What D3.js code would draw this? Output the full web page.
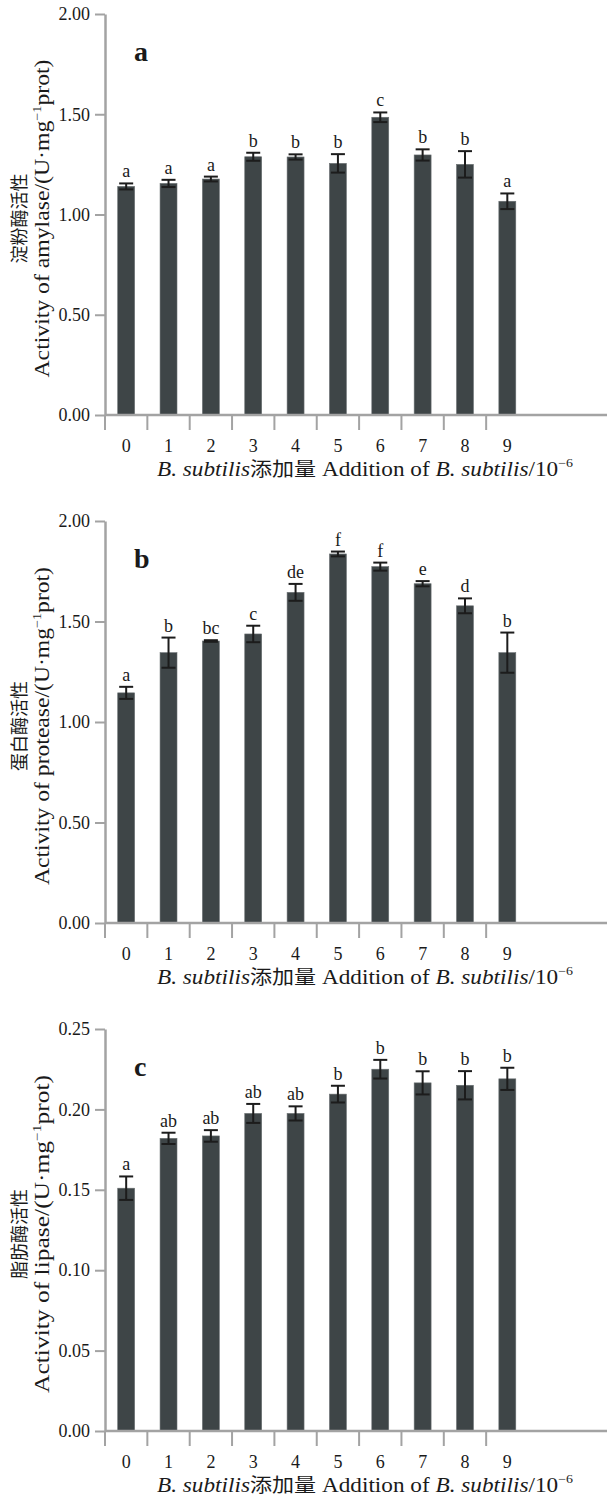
<!DOCTYPE html>
<html lang="zh">
<head>
<meta charset="UTF-8">
<title>Enzyme activity</title>
<style>
    html, body { margin: 0; padding: 0; background: #fff; }
    svg { display: block; }
    text { font-family: "Liberation Serif", "Times New Roman", serif; fill: #1a1a1a; }
    .cjk { font-family: "Noto Sans CJK SC", sans-serif; }
</style>
</head>
<body>
<div id="wrapper"></div>
<script src="https://d3js.org/d3.v7.min.js"></script>
<script>
    // 添加量 (10^-6)
    const categories = ["0", "1", "2", "3", "4", "5", "6", "7", "8", "9"];

    // a 淀粉酶
    const amylaseMean = [1.140, 1.155, 1.177, 1.288, 1.287, 1.255, 1.485, 1.297, 1.250, 1.066];
    const amylaseErr = [0.015, 0.018, 0.012, 0.020, 0.013, 0.046, 0.024, 0.028, 0.066, 0.039];
    const amylaseSig = ["a", "a", "a", "b", "b", "b", "c", "b", "b", "a"];
    const amylaseTicks = [0, 0.5, 1.0, 1.5, 2.0];

    // b 蛋白酶
    const proteaseMean = [1.145, 1.345, 1.403, 1.438, 1.645, 1.836, 1.773, 1.688, 1.578, 1.345];
    const proteaseErr = [0.030, 0.075, 0.004, 0.041, 0.042, 0.012, 0.020, 0.013, 0.037, 0.100];
    const proteaseSig = ["a", "b", "bc", "c", "de", "f", "f", "e", "d", "b"];
    const proteaseTicks = [0, 0.5, 1.0, 1.5, 2.0];

    // c 脂肪酶
    const lipaseMean = [0.151, 0.182, 0.1835, 0.1975, 0.1975, 0.2095, 0.225, 0.2165, 0.215, 0.219];
    const lipaseErr = [0.0073, 0.0035, 0.0036, 0.0059, 0.0044, 0.0052, 0.0058, 0.0072, 0.0088, 0.0069];
    const lipaseSig = ["a", "ab", "ab", "ab", "ab", "b", "b", "b", "b", "b"];
    const lipaseTicks = [0, 0.05, 0.10, 0.15, 0.20, 0.25];

    const width = 607, height = 1499;
    const axisColor = "#a3a3a3", barColor = "#3e4547", errColor = "#1c1c1c";

    const svg = d3.select("#wrapper").append("svg")
        .attr("width", width)
        .attr("height", height);

    const left = 105;

    // x 比例尺，各面板共用
    const xScale = d3.scaleBand()
        .domain(categories)
        .range([left, left + 423.5])
        .paddingInner(0.6)
        .paddingOuter(0.3);
    const halfGap = xScale.step() * xScale.paddingInner() / 2;

    const panels = [
        { label: "a", top: 14, bottom: 415, mean: amylaseMean, err: amylaseErr, sig: amylaseSig,
          ticks: amylaseTicks, cn: "淀粉酶活性", en: "Activity of amylase/(U·mg" },
        { label: "b", top: 521, bottom: 923, mean: proteaseMean, err: proteaseErr, sig: proteaseSig,
          ticks: proteaseTicks, cn: "蛋白酶活性", en: "Activity of protease/(U·mg" },
        { label: "c", top: 1029, bottom: 1431, mean: lipaseMean, err: lipaseErr, sig: lipaseSig,
          ticks: lipaseTicks, cn: "脂肪酶活性", en: "Activity of lipase/(U·mg" }
    ];

    panels.forEach(p => {
        const g = svg.append("g");
        const yMax = d3.max(p.ticks);
        const y = d3.scaleLinear().domain([0, yMax]).range([p.bottom, p.top]);
        const rows = categories.map((c, i) => ({ c, m: p.mean[i], e: p.err[i], s: p.sig[i] }));

        // 柱子
        g.selectAll(".bar")
            .data(rows)
            .join("rect")
            .attr("class", "bar")
            .attr("x", d => xScale(d.c))
            .attr("y", d => y(d.m))
            .attr("width", xScale.bandwidth())
            .attr("height", d => y(0) - y(d.m))
            .attr("fill", barColor)
            .attr("stroke", "#6a7072")
            .attr("stroke-width", 0.6);

        // 误差线
        const cap = 7;
        const eg = g.selectAll(".err")
            .data(rows)
            .join("g")
            .attr("class", "err")
            .attr("stroke", errColor)
            .attr("stroke-width", 2);
        eg.append("line")
            .attr("x1", d => xScale(d.c) + xScale.bandwidth() / 2)
            .attr("x2", d => xScale(d.c) + xScale.bandwidth() / 2)
            .attr("y1", d => y(d.m + d.e))
            .attr("y2", d => y(d.m - d.e));
        eg.append("line")
            .attr("x1", d => xScale(d.c) + xScale.bandwidth() / 2 - cap)
            .attr("x2", d => xScale(d.c) + xScale.bandwidth() / 2 + cap)
            .attr("y1", d => y(d.m + d.e))
            .attr("y2", d => y(d.m + d.e));
        eg.append("line")
            .attr("x1", d => xScale(d.c) + xScale.bandwidth() / 2 - cap)
            .attr("x2", d => xScale(d.c) + xScale.bandwidth() / 2 + cap)
            .attr("y1", d => y(d.m - d.e))
            .attr("y2", d => y(d.m - d.e));

        // 显著性字母
        g.selectAll(".sig")
            .data(rows)
            .join("text")
            .attr("class", "sig")
            .attr("x", d => xScale(d.c) + xScale.bandwidth() / 2)
            .attr("y", d => y(d.m + d.e) - 6)
            .attr("text-anchor", "middle")
            .attr("font-size", 18)
            .text(d => d.s);

        // y 轴
        const yAxis = d3.axisLeft(y)
            .tickValues(p.ticks)
            .tickFormat(d3.format(".2f"))
            .tickSizeInner(10)
            .tickSizeOuter(0)
            .tickPadding(5);
        const ya = g.append("g")
            .attr("transform", `translate(${left},0)`)
            .call(yAxis);
        ya.select(".domain").attr("stroke", axisColor).attr("stroke-width", 2.5);
        ya.selectAll(".tick line").attr("stroke", axisColor).attr("stroke-width", 2);
        ya.selectAll(".tick text")
            .attr("font-size", 18)
            .attr("fill", "#1a1a1a");

        // x 轴：标签在柱中间，刻度在分隔处
        const xAxis = d3.axisBottom(xScale).tickSize(0).tickPadding(24);
        const xa = g.append("g")
            .attr("transform", `translate(0,${p.bottom})`)
            .call(xAxis);
        xa.select(".domain").remove();
        xa.selectAll(".tick text")
            .attr("font-size", 18)
            .attr("fill", "#1a1a1a");
        g.append("line")
            .attr("x1", left).attr("x2", width)
            .attr("y1", p.bottom).attr("y2", p.bottom)
            .attr("stroke", axisColor).attr("stroke-width", 2.5);
        g.selectAll(".sep")
            .data(categories)
            .join("line")
            .attr("class", "sep")
            .attr("x1", d => xScale(d) - halfGap)
            .attr("x2", d => xScale(d) - halfGap)
            .attr("y1", p.bottom)
            .attr("y2", p.bottom + 15)
            .attr("stroke", axisColor)
            .attr("stroke-width", 2);

        // 面板字母
        g.append("text")
            .attr("x", 134)
            .attr("y", p.top + 47)
            .attr("font-size", 28)
            .attr("font-weight", "bold")
            .text(p.label);

        // y 轴标题
        const cy = (p.top + p.bottom) / 2 + 4;
        g.append("text")
            .attr("class", "cjk")
            .attr("transform", `translate(26,${cy}) rotate(-90)`)
            .attr("text-anchor", "middle")
            .attr("font-size", 18)
            .attr("fill", "#333")
            .text(p.cn);
        const en = g.append("text")
            .attr("transform", `translate(49,${cy}) rotate(-90)`)
            .attr("text-anchor", "middle")
            .attr("font-size", 20)
            .attr("textLength", 318)
            .attr("lengthAdjust", "spacingAndGlyphs");
        en.append("tspan").text(p.en);
        en.append("tspan").attr("dy", -8).attr("font-size", 12).text("−1");
        en.append("tspan").attr("dy", 8).text("prot)");

        // x 轴标题
        const xt = g.append("text")
            .attr("x", 157)
            .attr("y", p.bottom + 61)
            .attr("font-size", 20)
            .attr("textLength", 416)
            .attr("lengthAdjust", "spacingAndGlyphs");
        xt.append("tspan").attr("font-style", "italic").text("B. subtilis");
        xt.append("tspan").attr("class", "cjk").attr("font-size", 19).text("添加量");
        xt.append("tspan").text(" Addition of ");
        xt.append("tspan").attr("font-style", "italic").text("B. subtilis");
        xt.append("tspan").text("/10");
        xt.append("tspan").attr("dy", -9).attr("font-size", 12).text("−6");
    });
</script>
</body>
</html>
